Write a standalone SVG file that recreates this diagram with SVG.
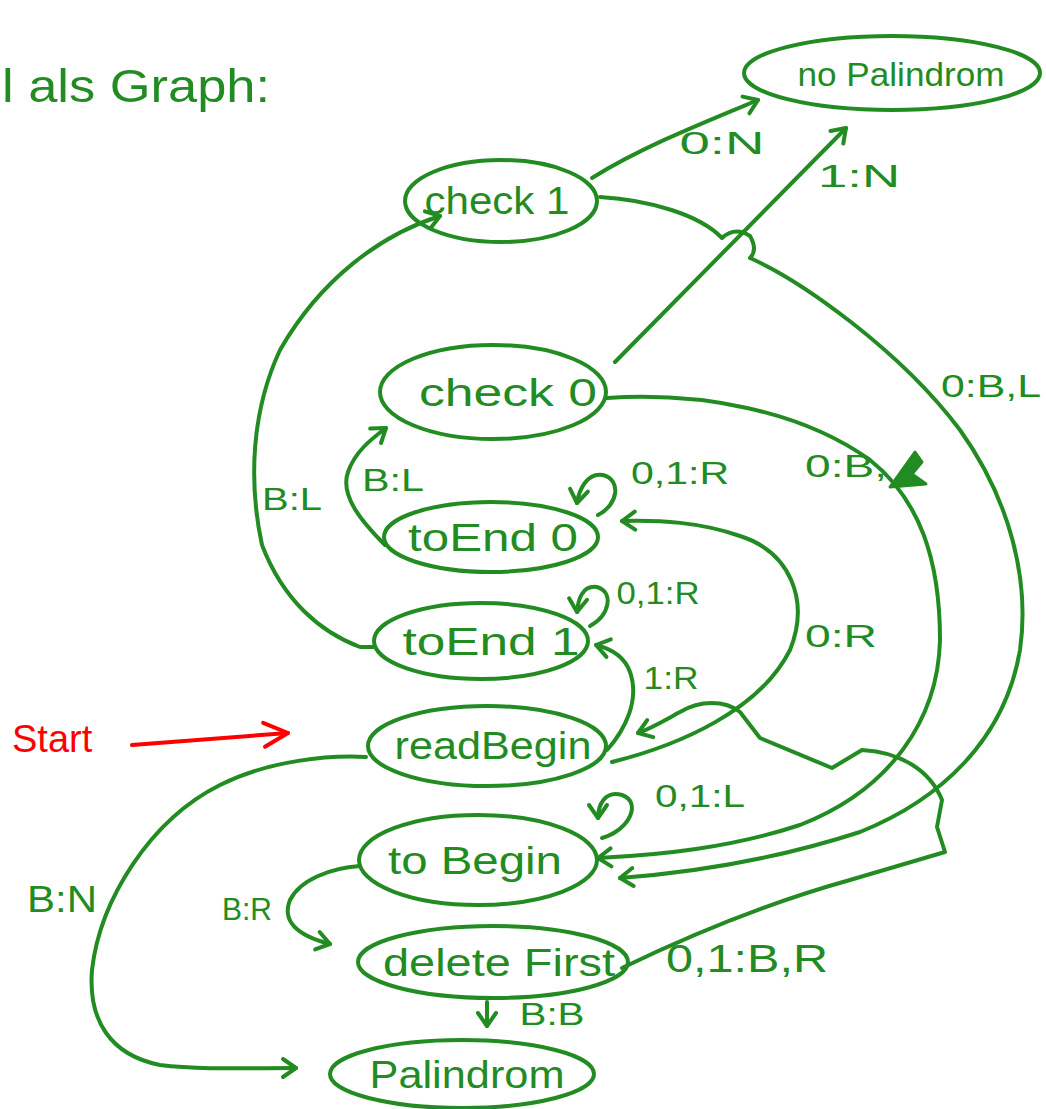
<svg xmlns="http://www.w3.org/2000/svg" width="1046" height="1109" viewBox="0 0 1046 1109">
<style>
.n{fill:none;stroke:#228B22;stroke-width:4}
.c{fill:none;stroke:#228B22;stroke-width:4;stroke-linecap:round;stroke-linejoin:round}
text{font-family:"Liberation Sans","DejaVu Sans",sans-serif;fill:#228B22}
.nl{font-size:38px;text-anchor:middle}
.el{font-size:31px;text-anchor:middle}
.red{fill:#ff0000}
</style>
<defs>
<marker id="a" viewBox="-16 -12 20 24" refX="0" refY="0" markerWidth="20" markerHeight="24" markerUnits="userSpaceOnUse" orient="auto">
<path d="M -13 -9 L 0 0 L -13 9" fill="none" stroke="#228B22" stroke-width="4" stroke-linecap="round" stroke-linejoin="round"/>
</marker>
<marker id="r" viewBox="-30 -16 34 32" refX="0" refY="0" markerWidth="34" markerHeight="32" markerUnits="userSpaceOnUse" orient="auto">
<path d="M -24 -12 L 0 0 L -24 12" fill="none" stroke="#ff0000" stroke-width="4" stroke-linecap="round" stroke-linejoin="round"/>
</marker>
</defs>
<rect width="1046" height="1109" fill="#ffffff"/>
<text x="2" y="102" style="font-size:46px" textLength="268" lengthAdjust="spacingAndGlyphs">l als Graph:</text>

<g id="connectors">
<path class="c" d="M 592 178 C 640 148 700 124 758 100" marker-end="url(#a)"/>
<path class="c" d="M 615 362 L 846 128" marker-end="url(#a)"/>
<path class="c" d="M 600 197 C 650 200 700 215 722 238 Q 735 226 750 236 Q 758 250 750 258 C 800 280 900 350 960 430 C 1010 500 1030 580 1020 650 C 1005 740 940 800 860 832 C 780 858 700 872 620 878" marker-end="url(#a)"/>
<path class="c" d="M 607 398 C 700 392 800 410 870 460 C 920 500 940 560 940 640 C 938 720 890 790 800 825 C 730 848 660 855 598 858" marker-end="url(#a)"/>
<path d="M 890 487 L 915 452 L 922 462 L 912 474 L 926 484 Z" fill="#228B22" stroke="#228B22" stroke-width="3" stroke-linejoin="round"/>
<path class="c" d="M 385 545 C 360 520 340 495 348 472 C 355 452 370 440 386 428" marker-end="url(#a)"/>
<path class="c" d="M 373 647 L 360 647 C 320 632 283 600 262 545 C 248 480 252 410 280 350 C 320 280 380 235 440 216" marker-end="url(#a)"/>
<path class="c" d="M 598 515 C 618 505 622 480 603 475 C 587 472 579 490 577 503" marker-end="url(#a)"/>
<path class="c" d="M 590 626 C 610 615 614 592 597 587 C 582 585 578 600 577 612" marker-end="url(#a)"/>
<path class="c" d="M 602 838 C 630 830 642 802 622 795 C 605 790 598 805 598 818" marker-end="url(#a)"/>
<path class="c" d="M 607 750 C 625 730 640 700 630 672 C 625 658 612 649 596 645" marker-end="url(#a)"/>
<path class="c" d="M 612 762 C 680 745 760 710 790 650 C 810 600 790 552 740 536 C 700 522 660 520 622 521" marker-end="url(#a)"/>
<path class="c" d="M 622 968 C 680 940 760 905 850 880 L 945 852 L 937 827 L 942 800 C 930 770 900 752 862 750 L 832 768 L 760 738 L 740 712 C 725 700 700 700 680 712 C 665 720 652 728 638 733" marker-end="url(#a)"/>
<path class="c" d="M 360 866 C 330 868 300 880 290 900 C 282 920 295 935 330 944" marker-end="url(#a)"/>
<path class="c" d="M 366 757 C 330 755 270 760 220 785 C 150 820 100 900 92 970 C 88 1020 110 1055 160 1065 C 200 1070 250 1068 296 1068" marker-end="url(#a)"/>
<path class="c" d="M 487 1002 L 487 1026" marker-end="url(#a)"/>
<path d="M 132 745 L 288 733" fill="none" stroke="#ff0000" stroke-width="4" stroke-linecap="round" marker-end="url(#r)"/>
</g>

<g id="edge-labels">
<text class="el" x="722" y="154" textLength="85" lengthAdjust="spacingAndGlyphs">0:N</text>
<text class="el" x="859" y="187" textLength="82" lengthAdjust="spacingAndGlyphs">1:N</text>
<text class="el" x="991" y="397" textLength="100" lengthAdjust="spacingAndGlyphs">0:B,L</text>
<text class="el" x="846" y="477" textLength="82" lengthAdjust="spacingAndGlyphs">0:B,</text>
<text class="el" x="680" y="484" textLength="98" lengthAdjust="spacingAndGlyphs">0,1:R</text>
<text class="el" x="393" y="491" textLength="62" lengthAdjust="spacingAndGlyphs">B:L</text>
<text class="el" x="292" y="510" textLength="60" lengthAdjust="spacingAndGlyphs">B:L</text>
<text class="el" x="658" y="604" textLength="83" lengthAdjust="spacingAndGlyphs">0,1:R</text>
<text class="el" x="841" y="647" textLength="72" lengthAdjust="spacingAndGlyphs">0:R</text>
<text class="el" x="671" y="689" textLength="55" lengthAdjust="spacingAndGlyphs">1:R</text>
<text class="el" x="700" y="807" textLength="90" lengthAdjust="spacingAndGlyphs">0,1:L</text>
<text class="el" x="247" y="920" textLength="50" lengthAdjust="spacingAndGlyphs">B:R</text>
<text class="el" x="62" y="912" style="font-size:36px" textLength="70" lengthAdjust="spacingAndGlyphs">B:N</text>
<text class="el" x="747" y="972" style="font-size:38px" textLength="162" lengthAdjust="spacingAndGlyphs">0,1:B,R</text>
<text class="el" x="552" y="1025" textLength="65" lengthAdjust="spacingAndGlyphs">B:B</text>
<text class="red" x="12" y="752" style="font-size:38px">Start</text>
</g>

<g id="noPalindrom"><ellipse class="n" cx="892" cy="73" rx="148" ry="37"/><text class="nl" x="901" y="86" style="font-size:34px" textLength="207" lengthAdjust="spacingAndGlyphs">no Palindrom</text></g>
<g id="check1"><ellipse class="n" cx="501" cy="201" rx="96" ry="41"/><text class="nl" x="497" y="214" textLength="145" lengthAdjust="spacingAndGlyphs">check 1</text></g>
<g id="check0"><ellipse class="n" cx="493" cy="392" rx="113" ry="47"/><text class="nl" x="508" y="406" textLength="178" lengthAdjust="spacingAndGlyphs">check 0</text></g>
<g id="toEnd0"><ellipse class="n" cx="491" cy="537" rx="107" ry="35"/><text class="nl" x="493" y="551" textLength="170" lengthAdjust="spacingAndGlyphs">toEnd 0</text></g>
<g id="toEnd1"><ellipse class="n" cx="481" cy="641" rx="107" ry="38"/><text class="nl" x="491" y="655" textLength="177" lengthAdjust="spacingAndGlyphs">toEnd 1</text></g>
<g id="readBegin"><ellipse class="n" cx="487" cy="746" rx="119" ry="40"/><text class="nl" x="493" y="759" textLength="197" lengthAdjust="spacingAndGlyphs">readBegin</text></g>
<g id="toBegin"><ellipse class="n" cx="478" cy="860" rx="119" ry="45"/><text class="nl" x="475" y="874" textLength="174" lengthAdjust="spacingAndGlyphs">to Begin</text></g>
<g id="deleteFirst"><ellipse class="n" cx="493" cy="962" rx="135" ry="36"/><text class="nl" x="499" y="976" textLength="232" lengthAdjust="spacingAndGlyphs">delete First</text></g>
<g id="Palindrom"><ellipse class="n" cx="462" cy="1074" rx="132" ry="34"/><text class="nl" x="467" y="1088" textLength="195" lengthAdjust="spacingAndGlyphs">Palindrom</text></g>
</svg>
